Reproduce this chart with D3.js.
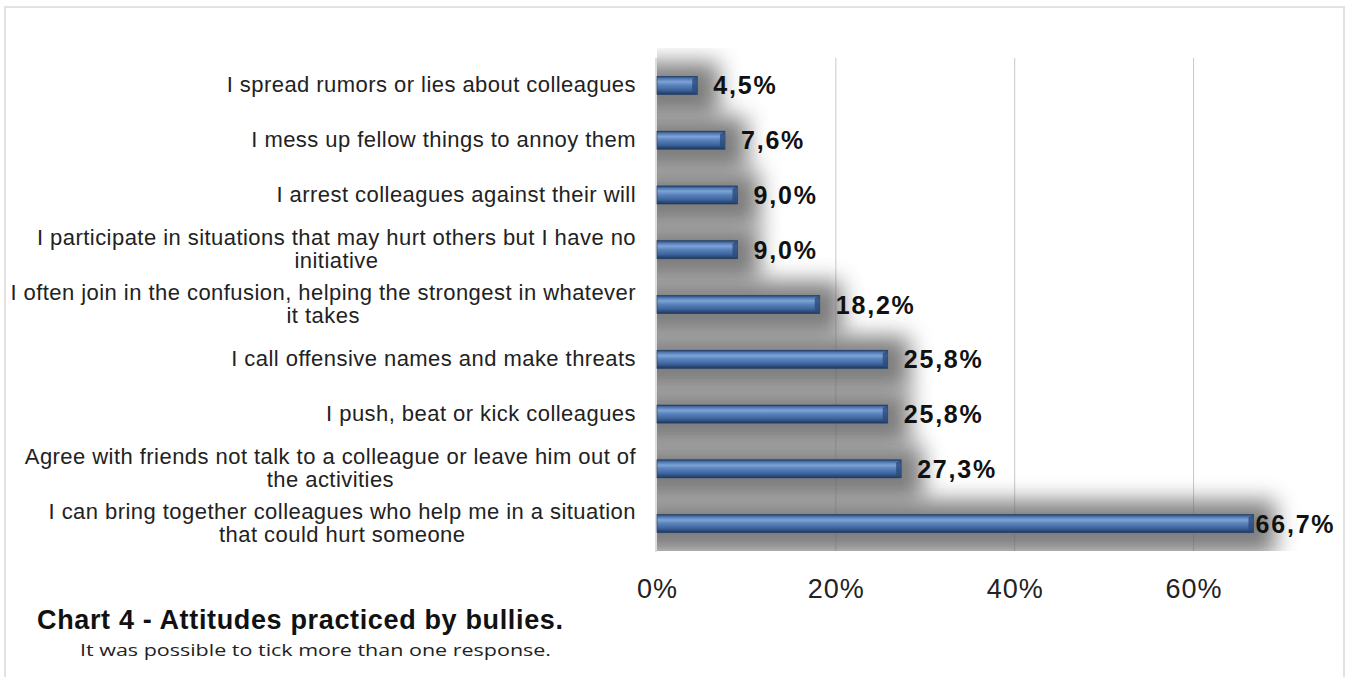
<!DOCTYPE html>
<html>
<head>
<meta charset="utf-8">
<script src="https://cdn.jsdelivr.net/npm/d3@7"></script>
<style>
  html, body { margin: 0; padding: 0; background: #fff; }
  svg { display: block; }
</style>
</head>
<body>
<svg id="chart" width="1352" height="677"></svg>
<script>
// Attitudes reported, top to bottom (lines split with "|")
const categories = [
  "I spread rumors or lies about colleagues",
  "I mess up fellow things to annoy them",
  "I arrest colleagues against their will",
  "I participate in situations that may hurt others but I have no|initiative",
  "I often join in the confusion, helping the strongest in whatever|it takes",
  "I call offensive names and make threats",
  "I push, beat or kick colleagues",
  "Agree with friends not talk to a colleague or leave him out of|the activities",
  "I can bring together colleagues who help me in a situation|that could hurt someone"
];
const values = [4.5, 7.6, 9.0, 9.0, 18.2, 25.8, 25.8, 27.3, 66.7];
const valueLabels = ["4,5%", "7,6%", "9,0%", "9,0%", "18,2%", "25,8%", "25,8%", "27,3%", "66,7%"];
const tickValues = [0, 20, 40, 60];
const tickLabels = ["0%", "20%", "40%", "60%"];
const title = "Chart 4 - Attitudes practiced by bullies.";
const subtitle = "It was possible to tick more than one response.";

const svg = d3.select("#chart");
const W = 1352, H = 677;
const plot = { left: 657, right: 1283, top: 58, bottom: 551 };
const frameRight = 1344;

const x = d3.scaleLinear().domain([0, 70]).range([plot.left, plot.right]);
const y = d3.scaleBand().domain(categories).range([plot.top, plot.bottom]).padding(0);
const barH = y.bandwidth() * 0.33;
const mid = d => y(d) + y.bandwidth() / 2;

const defs = svg.append("defs");
const grad = defs.append("linearGradient")
  .attr("id", "barGrad").attr("x1", 0).attr("y1", 0).attr("x2", 0).attr("y2", 1);
[[0, "#23406c"], [0.12, "#4e78b2"], [0.3, "#7fa3d6"], [0.48, "#5a84be"],
 [0.75, "#3f659d"], [1, "#1d3760"]].forEach(([o, c]) =>
  grad.append("stop").attr("offset", o).attr("stop-color", c));

defs.append("filter").attr("id", "soft")
  .attr("x", "-30%").attr("y", "-200%").attr("width", "160%").attr("height", "500%")
  .append("feGaussianBlur").attr("stdDeviation", 11);

defs.append("clipPath").attr("id", "plotClip")
  .append("rect")
  .attr("x", plot.left).attr("y", plot.top - 10)
  .attr("width", W - plot.left).attr("height", plot.bottom - plot.top + 10);

// outer frame
svg.append("rect")
  .attr("x", 5).attr("y", 7).attr("width", frameRight - 5).attr("height", 680)
  .attr("fill", "none").attr("stroke", "#e2e2e2").attr("stroke-width", 2);

// vertical gridlines
svg.append("g").selectAll("line")
  .data(tickValues.filter(d => d > 0))
  .join("line")
  .attr("x1", d => x(d)).attr("x2", d => x(d))
  .attr("y1", plot.top).attr("y2", plot.bottom)
  .attr("stroke", "#c8c8c8").attr("stroke-width", 1);

// soft drop shadows behind the bars
svg.append("g").attr("clip-path", "url(#plotClip)")
  .selectAll("rect")
  .data(categories)
  .join("rect")
  .attr("x", plot.left - 30)
  .attr("y", d => mid(d) - barH / 2 - 14)
  .attr("width", (d, i) => x(values[i]) - plot.left + 52)
  .attr("height", barH + 36)
  .attr("fill", "#666")
  .attr("opacity", 0.85)
  .attr("filter", "url(#soft)");

// left axis line
svg.append("line")
  .attr("x1", plot.left - 1).attr("x2", plot.left - 1)
  .attr("y1", plot.top).attr("y2", plot.bottom + 1)
  .attr("stroke", "#d0d0d0").attr("stroke-width", 1.5);

// bars
const bars = svg.append("g");
bars.selectAll("rect")
  .data(categories)
  .join("rect")
  .attr("x", plot.left)
  .attr("y", d => mid(d) - barH / 2)
  .attr("width", (d, i) => x(values[i]) - plot.left)
  .attr("height", barH)
  .attr("fill", "url(#barGrad)")
  .attr("stroke", "#1f3a62").attr("stroke-width", 0.6);

// bevelled bar ends
bars.selectAll("path")
  .data(categories)
  .join("path")
  .attr("d", (d, i) => {
    const xe = x(values[i]), y0 = mid(d) - barH / 2;
    return `M${xe - 5},${y0 + 3} L${xe},${y0} L${xe},${y0 + barH} L${xe - 5},${y0 + barH - 3} Z`;
  })
  .attr("fill", "#2c4b7a").attr("opacity", 0.8);

// value labels; a label that would run past the frame hugs its bar end instead
svg.append("g").selectAll("text")
  .data(categories)
  .join("text")
  .attr("x", (d, i) => x(values[i]) + 16)
  .attr("y", d => mid(d) + 9)
  .attr("font-family", "Liberation Sans, Arial, sans-serif")
  .attr("font-weight", "bold")
  .attr("font-size", 25)
  .attr("letter-spacing", 1.8)
  .attr("fill", "#111")
  .text((d, i) => valueLabels[i])
  .each(function(d, i) {
    const w = this.getComputedTextLength();
    if (x(values[i]) + 16 + w > frameRight - 6) d3.select(this).attr("x", x(values[i]) + 2);
  });

// category labels: each block of lines centred on itself and right-aligned to the axis
const labelRight = 636;
const lineGap = 23;
const catG = svg.append("g")
  .attr("font-family", "Liberation Sans, Arial, sans-serif")
  .attr("font-size", 22)
  .attr("letter-spacing", 0.45)
  .attr("fill", "#222");
categories.forEach(c => {
  const lines = c.split("|");
  const t = catG.append("text").attr("text-anchor", "middle");
  lines.forEach((ln, k) => {
    t.append("tspan")
      .attr("y", mid(c) + 7 + (k - (lines.length - 1) / 2) * lineGap)
      .text(ln);
  });
  const maxW = d3.max(t.selectAll("tspan").nodes(), n => n.getComputedTextLength());
  t.selectAll("tspan").attr("x", labelRight - maxW / 2);
});

// x axis tick labels
const xAxis = d3.axisBottom(x)
  .tickValues(tickValues)
  .tickFormat((d, i) => tickLabels[i])
  .tickSize(0)
  .tickPadding(0);
const ax = svg.append("g")
  .attr("transform", `translate(0,${plot.bottom + 28})`)
  .call(xAxis);
ax.select(".domain").remove();
ax.selectAll("text")
  .attr("font-family", "Liberation Sans, Arial, sans-serif")
  .attr("font-size", 27)
  .attr("letter-spacing", 1)
  .attr("fill", "#222");

// caption
svg.append("text")
  .attr("x", 37).attr("y", 629)
  .attr("font-family", "Liberation Sans, Arial, sans-serif")
  .attr("font-weight", "bold")
  .attr("font-size", 27)
  .attr("textLength", 526).attr("lengthAdjust", "spacing")
  .attr("fill", "#111")
  .text(title);

svg.append("text")
  .attr("x", 80).attr("y", 656)
  .attr("font-family", "Open Sans, sans-serif")
  .attr("font-size", 16)
  .attr("textLength", 471).attr("lengthAdjust", "spacingAndGlyphs")
  .attr("fill", "#222")
  .text(subtitle);
</script>
</body>
</html>
